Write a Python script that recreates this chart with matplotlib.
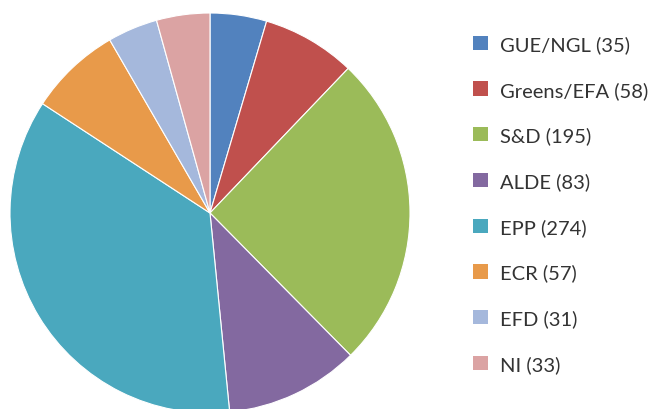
import matplotlib
matplotlib.use('Agg')
from matplotlib import pyplot as plt
from matplotlib.patches import Patch

# 데이터
groups = ['GUE/NGL', 'Greens/EFA', 'S&D', 'ALDE', 'EPP', 'ECR', 'EFD', 'NI']
seats = [35, 58, 195, 83, 274, 57, 31, 33]
colors = ['#5282be', '#c0504d', '#9bbb59', '#8369a0', '#4aa8be', '#e89a4a', '#a5b8dc', '#dba3a3']

plt.rcParams['font.family'] = ['Lato', 'DejaVu Sans']

fig = plt.figure(figsize=(6.52, 4.10), dpi=100)
ax = fig.add_axes([10 / 652, (196 - 200) / 410, 400 / 652, 400 / 410])
ax.pie(seats, colors=colors, startangle=90, counterclock=False,
       wedgeprops={'edgecolor': 'white', 'linewidth': 0.8})
ax.set_aspect('equal')
ax.set_xlim(-1, 1)
ax.set_ylim(-1, 1)

handles = [Patch(facecolor=c, edgecolor='none') for c in colors]
labels = [f'{g} ({s})' for g, s in zip(groups, seats)]
fig.legend(handles, labels, loc='upper left', bbox_to_anchor=(465 / 652, 1 - 28 / 410),
           frameon=False, fontsize=14.5, handlelength=0.72, handleheight=0.72,
           handletextpad=0.6, labelspacing=1.38, borderaxespad=0, labelcolor='#333333')

fig.savefig('out.png', dpi=100)
